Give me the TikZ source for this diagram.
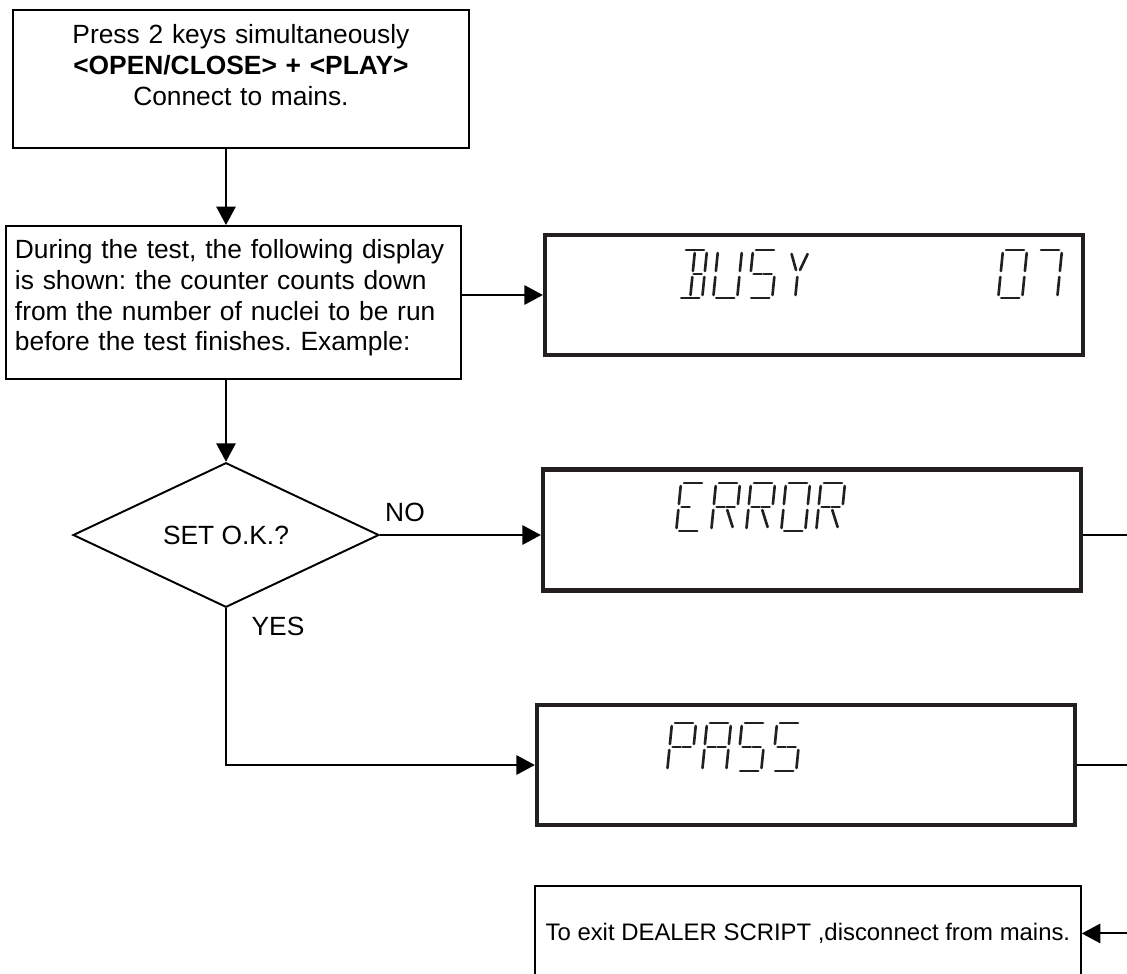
\documentclass[tikz,border=0pt]{standalone}
\usepackage{fontspec}
\setmainfont{Liberation Sans}
\frenchspacing
\usetikzlibrary{arrows.meta,shapes.geometric}
\definecolor{lcdink}{HTML}{231F20}

% segments of one display character, cell 24 x 48
\tikzset{lcdseg/.style={line width=1.5pt,line cap=round,draw=lcdink}}
\newcommand{\defseg}[2]{\expandafter\def\csname lcdseg#1\endcsname{\draw[lcdseg] #2;}}
\defseg{a}{(3,0) -- (21,0)}
\defseg{b}{(24,3) -- (24,21)}
\defseg{c}{(24,27) -- (24,45)}
\defseg{d}{(3,48) -- (21,48)}
\defseg{e}{(0,27) -- (0,45)}
\defseg{f}{(0,3) -- (0,21)}
\defseg{gl}{(3,24) -- (11,24)}
\defseg{gr}{(13,24) -- (21,24)}
\defseg{h}{(4,4) -- (10,20)}
\defseg{j}{(20,4) -- (14,20)}
\defseg{i}{(12,3) -- (12,21)}
\defseg{l}{(12,27) -- (12,45)}
\defseg{m}{(14,27) -- (21,44)}
\newcommand{\lcdchar}[3]{%
  \begin{scope}[shift={(#1,#2)},xslant=0.1]
    \foreach \s in {#3} {\csname lcdseg\s\endcsname}
  \end{scope}}

\begin{document}
\begin{tikzpicture}[x=0.02cm,y=-0.02cm,>={Triangle[length=10.5pt,width=11pt]},
  flowbox/.style={draw,line width=1.1pt,inner sep=0pt,font=\fontsize{15}{17.4}\selectfont},
  lcdbox/.style={draw=lcdink,line width=2.5pt,minimum width=10.76cm,minimum height=2.4cm},
  lbl/.style={font=\fontsize{15}{17.4}\selectfont},
  flow/.style={line width=1.1pt}]
  \useasboundingbox (0,0) rectangle (1127,974);
  \coordinate (rim) at (1127,0);

  \node[flowbox,anchor=north west,text width=9.12cm,align=center,
        text height=0.68cm,text depth=2.08cm] (start) at (12,9)
    {Press 2 keys simultaneously\\ \textbf{<OPEN/CLOSE> + <PLAY>}\\ Connect to mains.};
  \node[flowbox,anchor=north west,text width=8.75cm,inner xsep=0.18cm,align=left,
        text height=0.66cm,text depth=2.4cm] (test) at (5,225)
    {During the test, the following display\\ is shown: the counter counts down\\
     from the number of nuclei to be run\\ before the test finishes. Example:};
  \node[flowbox,diamond,minimum width=6.12cm,minimum height=2.88cm] (ok) at (226,535) {SET O.K.?};
  \node[lcdbox] (busy) at (814,295) {};
  \node[lcdbox,minimum height=2.42cm] (error) at (812,530) {};
  \node[lcdbox] (pass) at (806,765) {};
  \node[flowbox,anchor=north west,minimum width=10.92cm,minimum height=1.9cm,
        font=\fontsize{13.6}{16}\selectfont] (quit) at (534,885)
    {To exit DEALER SCRIPT ,disconnect from mains.};
  \node[lbl] (no) at (405,512) {NO};
  \node[lbl] (yes) at (278,626) {YES};

  % display texts
  \lcdchar{683}{250}{a,b,c,d,gr,i,l}
  \lcdchar{718}{250}{b,c,d,e,f}
  \lcdchar{753}{250}{a,f,gl,gr,c,d}
  \lcdchar{788}{250}{h,j,l}
  \lcdchar{1003}{250}{a,b,c,d,e,f}
  \lcdchar{1038}{250}{a,b,c}
  \lcdchar{681}{483}{a,d,e,f,gl}
  \lcdchar{716}{483}{a,b,e,f,gl,gr,m}
  \lcdchar{751}{483}{a,b,e,f,gl,gr,m}
  \lcdchar{786}{483}{a,b,c,d,e,f}
  \lcdchar{821}{483}{a,b,e,f,gl,gr,m}
  \lcdchar{672}{723}{a,b,e,f,gl,gr}
  \lcdchar{707}{723}{a,b,c,e,f,gl,gr}
  \lcdchar{742}{723}{a,c,d,f,gl,gr}
  \lcdchar{777}{723}{a,c,d,f,gl,gr}

  \draw[flow,->] (start.south -| ok.north) -- (test.north -| ok.north);
  \draw[flow,->] (test.south -| ok.north) -- (ok.north);
  \draw[flow,->] (busy.west -| test.east) -- (busy.west);
  \draw[flow,->] (ok.east) -- (ok.east -| error.west);
  \draw[flow,->] (ok.south) |- (pass.west);
  \draw[flow] (ok.east -| error.east) -- (ok.east -| rim);
  \draw[flow] (pass.east) -- (pass.east -| rim);
  \draw[flow,->] (quit.east -| rim) -- (quit.east);
\end{tikzpicture}
\end{document}
